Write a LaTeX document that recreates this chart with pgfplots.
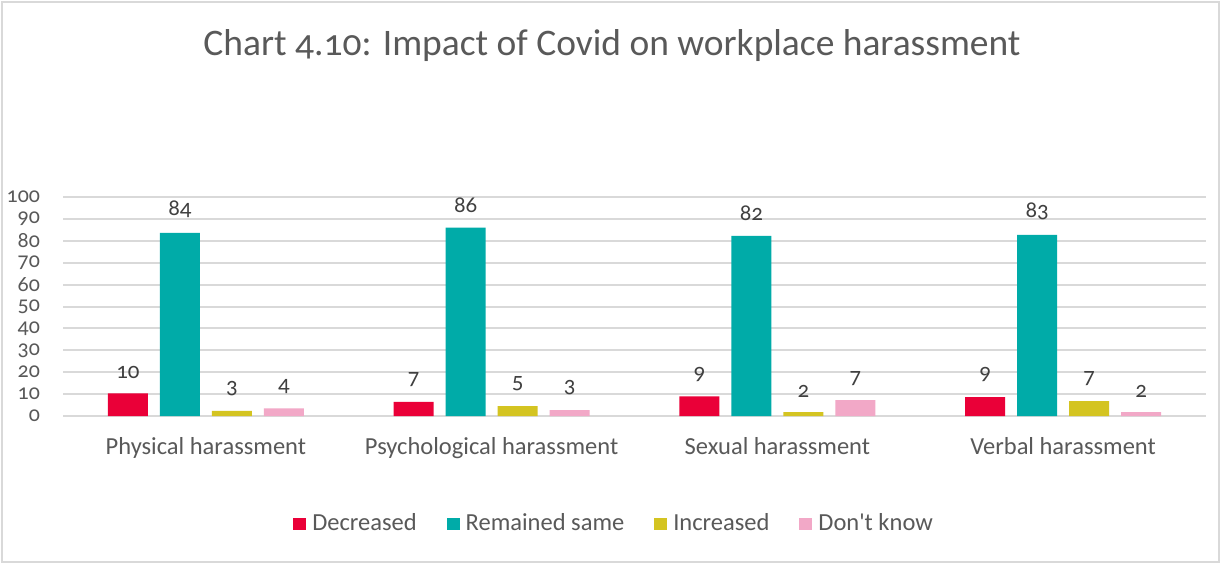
\documentclass[border=0pt]{standalone}
\usepackage{pgfplots}
\pgfplotsset{compat=1.18}
\usepackage{fontspec}
\setmainfont{Carlito}[Numbers=OldStyle]
\definecolor{cdec}{HTML}{EA0038}
\definecolor{csame}{HTML}{00ABA8}
\definecolor{cinc}{HTML}{D4C421}
\definecolor{cdk}{HTML}{F2A8C7}
\definecolor{txt}{HTML}{595959}
\definecolor{gridc}{HTML}{D9D9D9}
\begin{document}
\begin{tikzpicture}
% frame, 1px = 0.5bp
\fill[white] (0,0) rectangle (610.5bp,-282bp);
\draw[gridc, line width=0.8bp] (1bp,-1bp) rectangle (609.5bp,-281bp);
\node[text=txt, font=\fontsize{18.8}{22}\selectfont] at (306bp,-23bp) {Chart 4.10: Impact of Covid on workplace harassment};
\begin{axis}[
  at={(31.5bp,-208bp)}, anchor=south west,
  scale only axis,
  width=571.5bp, height=109.5bp,
  ybar=6bp, bar width=20bp,
  xmin=-0.5, xmax=3.5, ymin=0, ymax=100,
  xtick={0,1,2,3},
  xticklabels={Physical harassment, Psychological harassment, Sexual harassment, Verbal harassment},
  ytick={0,10,...,100},
  ymajorgrids, grid style={gridc, line width=1bp},
  axis x line*=bottom, axis y line*=left,
  x axis line style={gridc, line width=1bp, -},
  y axis line style={draw=none},
  major tick length=0pt,
  xticklabel style={text=txt, font=\fontsize{12.3}{14}\selectfont, yshift=-7bp},
  yticklabel style={text=txt, font=\fontsize{11}{12}\selectfont, anchor=east, xshift=-8bp},
  /pgf/number format/assume math mode=true,
  point meta=explicit,
  nodes near coords={\pgfmathprintnumber{\pgfplotspointmeta}},
  nodes near coords style={text=black!75, font=\fontsize{11.5}{13}\selectfont, yshift=4bp},
  legend columns=4,
  legend style={at={(0.483,-0.493)}, anchor=center, draw=none, fill=none,
    font=\fontsize{12.3}{14}\selectfont, text=txt,
    /tikz/every even column/.append style={column sep=13bp},
    /tikz/every odd column/.append style={column sep=1bp}},
  legend image code/.code={\fill[#1] (0bp,-3.2bp) rectangle (6.5bp,3.2bp);},
]
\addplot[fill=cdec, draw=none] coordinates {(0,10.3)[10] (1,6.4)[7] (2,9.0)[9] (3,8.6)[9]};
\addlegendentry{Decreased}
\addplot[fill=csame, draw=none] coordinates {(0,83.6)[84] (1,86.0)[86] (2,82.2)[82] (3,82.7)[83]};
\addlegendentry{Remained same}
\addplot[fill=cinc, draw=none] coordinates {(0,2.4)[3] (1,4.5)[5] (2,1.8)[2] (3,6.8)[7]};
\addlegendentry{Increased}
\addplot[fill=cdk, draw=none] coordinates {(0,3.5)[4] (1,2.7)[3] (2,7.2)[7] (3,1.8)[2]};
\addlegendentry{Don\textquotesingle t know}
\end{axis}
\end{tikzpicture}
\end{document}
